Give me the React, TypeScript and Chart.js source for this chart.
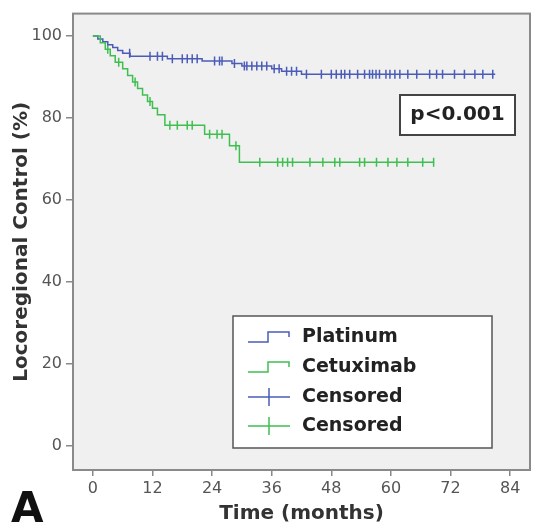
import React, { useEffect, useRef } from 'react';
import { Chart, registerables } from 'chart.js';
Chart.register(...registerables);

const xTicks = [0, 12, 24, 36, 48, 60, 72, 84];
const yTicks = [0, 20, 40, 60, 80, 100];

const platinumTimes = [0, 1, 2, 3, 4, 5, 6, 7.5, 15, 22, 28, 30, 36, 38, 42, 81];
const platinumSurv = [100, 99.3, 98.6, 97.9, 97.2, 96.5, 95.8, 95.1, 94.5, 93.9, 93.3, 92.7, 92.0, 91.4, 90.7, 90.7];
const platinumCensorTimes = [7.4, 11.5, 13, 14, 16, 18, 19, 20, 21, 24.5, 25.5, 26, 28.5, 30.5, 31, 32, 33, 34, 35, 36.5, 37.5, 39, 40, 41, 43, 46, 48, 49, 50, 50.7, 51.7, 53.3, 54.7, 55.7, 56.3, 57, 57.7, 59, 59.8, 60.8, 61.8, 63.4, 65.2, 67.8, 69.2, 70.4, 72.8, 74.8, 76.9, 78.5, 80.5];

const cetuximabTimes = [0, 1.5, 2.5, 3.5, 4.5, 6, 7, 8, 9, 10, 11, 12, 13, 14.5, 22.5, 27.5, 29.5, 68.7];
const cetuximabSurv = [100, 98.4, 96.8, 95.2, 93.6, 92.0, 90.4, 88.8, 87.2, 85.6, 84.0, 82.4, 80.8, 78.2, 76.0, 73.2, 69.2, 69.2];
const cetuximabCensorTimes = [3, 5.2, 8.5, 11.5, 15.5, 17, 19, 20, 23.5, 25, 26, 28.8, 33.6, 37.2, 38.2, 39.2, 40.2, 43.7, 46.3, 48.7, 49.7, 53.7, 54.7, 57.1, 59.4, 61.2, 63.4, 66.4, 68.6];

const legendLabels = ['Platinum', 'Cetuximab', 'Censored', 'Censored'];
const pValueText = 'p<0.001';
const panelLetter = 'A';
const xTitle = 'Time (months)';
const yTitle = 'Locoregional Control (%)';

const BLUE = '#4a5cb8';
const GREEN = '#3fbf50';
const FONT = '"DejaVu Sans", sans-serif';

function survAt(times: number[], surv: number[], t: number) {
  let s = surv[0];
  for (let i = 0; i < times.length; i++) if (times[i] <= t) s = surv[i];
  return s;
}

const overlayPlugin = {
  id: 'overlay',
  beforeDraw(chart: any) {
    const { ctx, chartArea: a } = chart;
    ctx.save();
    ctx.fillStyle = '#ffffff';
    ctx.fillRect(0, 0, chart.width, chart.height);
    ctx.fillStyle = '#f0f0f0';
    ctx.fillRect(a.left, a.top, a.right - a.left, a.bottom - a.top);
    ctx.restore();
  },
  afterDraw(chart: any) {
    const { ctx, chartArea: a } = chart;
    ctx.save();
    ctx.strokeStyle = '#8a8a8a';
    ctx.lineWidth = 2;
    ctx.strokeRect(a.left, a.top, a.right - a.left, a.bottom - a.top);

    ctx.fillStyle = '#ffffff';
    ctx.fillRect(400, 95, 115, 40);
    ctx.strokeStyle = '#444';
    ctx.lineWidth = 2;
    ctx.strokeRect(400, 95, 115, 40);
    ctx.fillStyle = '#222';
    ctx.font = `bold 20px ${FONT}`;
    ctx.textAlign = 'center';
    ctx.textBaseline = 'middle';
    ctx.fillText(pValueText, 457.5, 115);

    ctx.fillStyle = '#ffffff';
    ctx.fillRect(233, 316, 259, 132);
    ctx.strokeStyle = '#555';
    ctx.lineWidth = 1.5;
    ctx.strokeRect(233, 316, 259, 132);
    const rows = [337, 367, 397, 426];
    const colors = [BLUE, GREEN, BLUE, GREEN];
    rows.forEach((cy, i) => {
      ctx.strokeStyle = colors[i];
      ctx.lineWidth = 1.5;
      ctx.beginPath();
      if (i < 2) {
        ctx.moveTo(248, cy + 5);
        ctx.lineTo(268, cy + 5);
        ctx.lineTo(268, cy - 5);
        ctx.lineTo(289, cy - 5);
        ctx.lineTo(289, cy);
      } else {
        ctx.moveTo(248, cy);
        ctx.lineTo(290, cy);
        ctx.moveTo(269, cy - 9);
        ctx.lineTo(269, cy + 9);
      }
      ctx.stroke();
      ctx.fillStyle = '#222';
      ctx.font = `bold 19px ${FONT}`;
      ctx.textAlign = 'left';
      ctx.textBaseline = 'middle';
      ctx.fillText(legendLabels[i], 302, cy);
    });

    ctx.fillStyle = '#111';
    ctx.font = `bold 42px ${FONT}`;
    ctx.textAlign = 'left';
    ctx.textBaseline = 'alphabetic';
    ctx.fillText(panelLetter, 11, 522);
    ctx.restore();
  },
};

export default function App() {
  const ref = useRef<HTMLCanvasElement | null>(null);
  useEffect(() => {
    if (!ref.current) return;
    const platLine = platinumTimes.map((t, i) => ({ x: t, y: platinumSurv[i] }));
    const cetLine = cetuximabTimes.map((t, i) => ({ x: t, y: cetuximabSurv[i] }));
    const platCens = platinumCensorTimes.map((t) => ({ x: t, y: survAt(platinumTimes, platinumSurv, t) }));
    const cetCens = cetuximabCensorTimes.map((t) => ({ x: t, y: survAt(cetuximabTimes, cetuximabSurv, t) }));
    const chart = new Chart(ref.current, {
      type: 'scatter',
      data: {
        datasets: [
          { data: cetLine, showLine: true, stepped: 'before', borderColor: GREEN, borderWidth: 1.5, pointRadius: 0, fill: false },
          { data: platLine, showLine: true, stepped: 'before', borderColor: BLUE, borderWidth: 1.5, pointRadius: 0, fill: false },
          { data: cetCens, showLine: false, pointStyle: 'line', rotation: 90, pointRadius: 4.5, borderColor: GREEN, borderWidth: 1.5 },
          { data: platCens, showLine: false, pointStyle: 'line', rotation: 90, pointRadius: 4.5, borderColor: BLUE, borderWidth: 1.5 },
        ],
      } as any,
      options: {
        responsive: false,
        animation: false,
        events: [],
        layout: { padding: { left: 0, right: 11, top: 9, bottom: 0 } },
        plugins: { legend: { display: false }, tooltip: { enabled: false } },
        scales: {
          x: {
            type: 'linear',
            min: -4,
            max: 88,
            afterBuildTicks: (s: any) => { s.ticks = xTicks.map((v) => ({ value: v })); },
            afterFit: (s: any) => { s.height = 58; },
            border: { display: false },
            grid: { drawOnChartArea: false, drawTicks: true, tickLength: 6, color: '#888', lineWidth: 1.5 },
            ticks: { color: '#555', font: { family: FONT, size: 16 }, padding: 3, maxRotation: 0 },
            title: { display: true, text: xTitle, color: '#333', font: { family: FONT, size: 20, weight: 'bold' }, padding: { top: 0, bottom: 2 } },
          },
          y: {
            type: 'linear',
            min: -6,
            max: 105.5,
            afterBuildTicks: (s: any) => { s.ticks = yTicks.map((v) => ({ value: v })); },
            afterFit: (s: any) => { s.width = 73; },
            border: { display: false },
            grid: { drawOnChartArea: false, drawTicks: true, tickLength: 7, color: '#888', lineWidth: 1.5 },
            ticks: { color: '#555', font: { family: FONT, size: 16 }, padding: 4 },
            title: { display: true, text: yTitle, color: '#333', font: { family: FONT, size: 20, weight: 'bold' }, padding: { top: 10, bottom: 0 } },
          },
        },
      } as any,
      plugins: [overlayPlugin],
    });
    return () => chart.destroy();
  }, []);
  return (
    <div style={{ position: 'absolute', left: 0, top: 0, width: 541, height: 528 }}>
      <canvas ref={ref} width={541} height={528} />
    </div>
  );
}
